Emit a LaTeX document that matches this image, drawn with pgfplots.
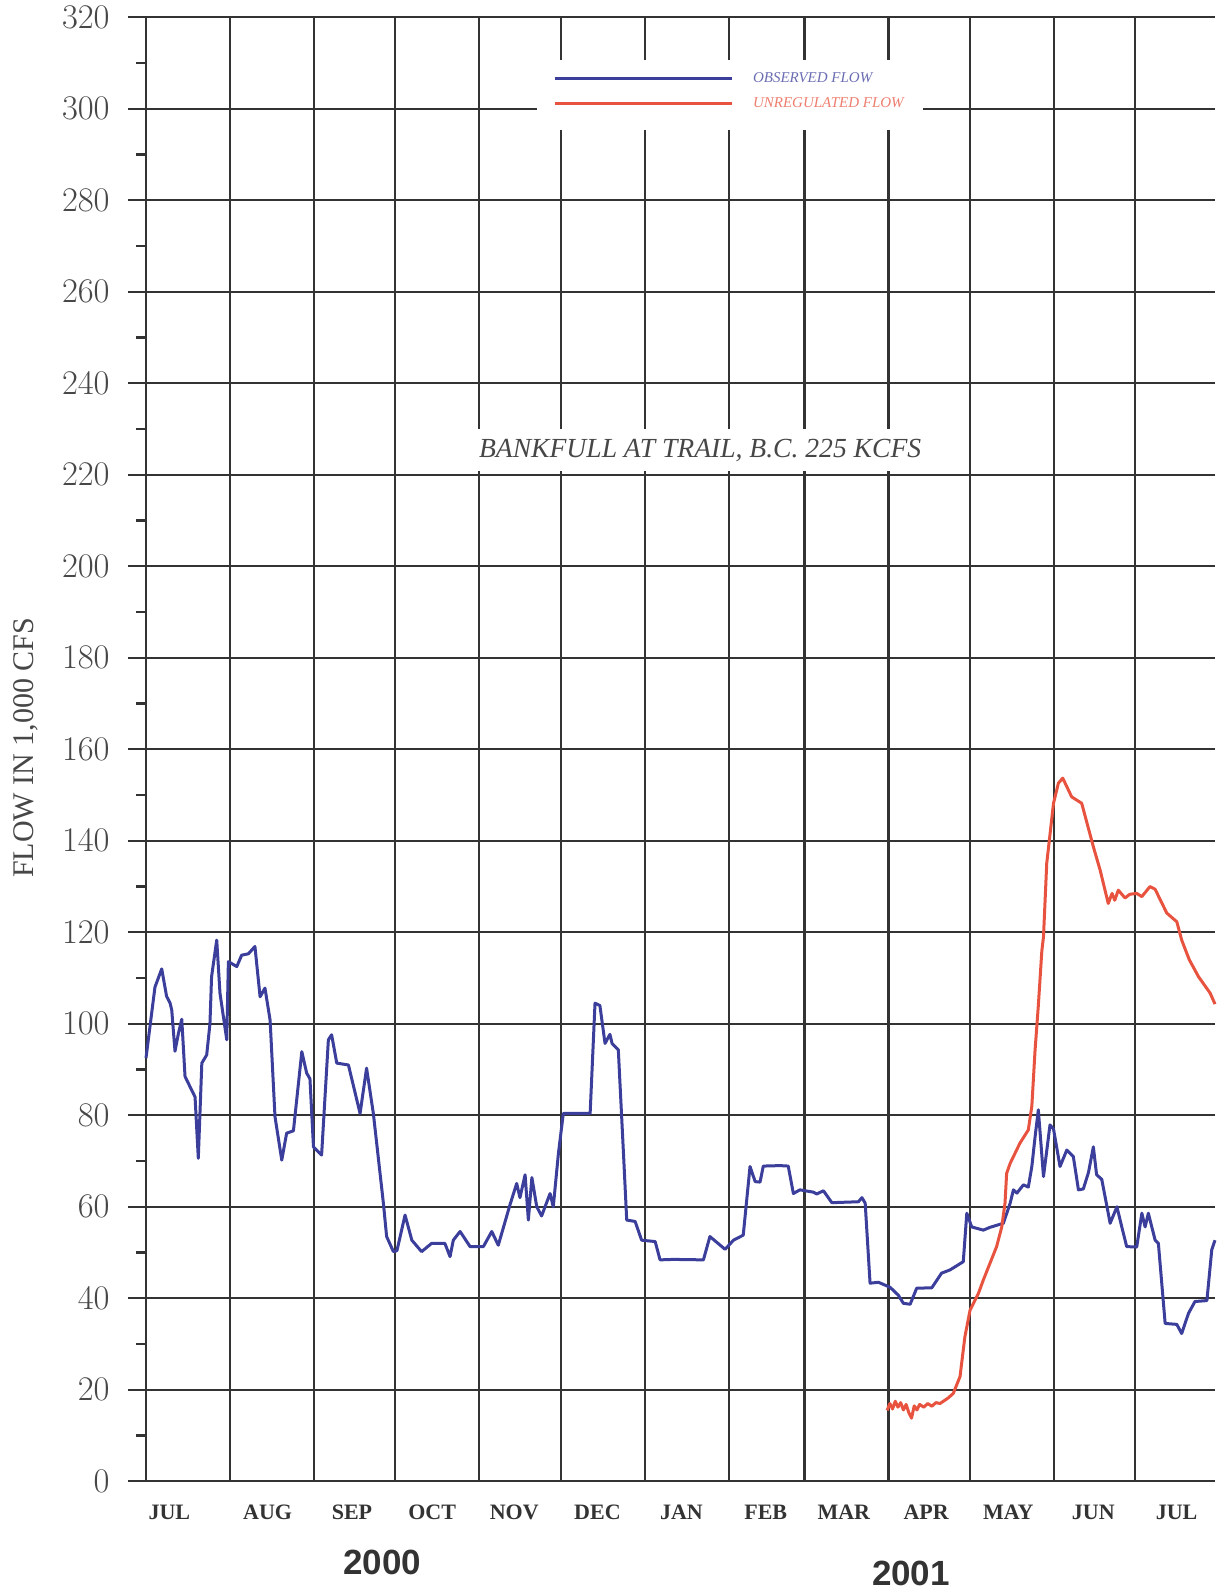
\documentclass[border=0pt]{standalone}
\usepackage{fontspec}
\setmainfont{Liberation Serif}
\newfontfamily\yearfont{Liberation Sans}
\usepackage{pgfplots}
\pgfplotsset{compat=1.18}

\definecolor{obsblue}{HTML}{3B3E9A}
\definecolor{unregred}{HTML}{E8533F}
\definecolor{gridgray}{HTML}{333333}
\definecolor{labelgray}{HTML}{474747}

% Observed flow (1,000 cfs), x = days after 1 July 2000
\pgfplotstableread{
day flow
0 92.5
3.3 108
5.8 112
7.6 106
8.9 104.5
9.5 103
10.7 94
12 98
13.2 101
14.4 88.5
16.2 86.3
18.1 84
19.3 70.6
20.6 91.4
22.4 93.2
23.6 100
24.2 110.3
26.1 118.3
27.3 106.7
29.8 96.5
30.4 113.6
33.5 112.5
35.3 115
37.8 115.3
40.2 116.9
42.1 105.9
43.9 107.8
45.8 100.8
47.6 79.7
50.1 70.2
51.9 76.1
54.4 76.6
57.5 93.9
59.3 89.2
60.5 88
61.8 73.1
64.8 71.3
67.3 96.5
68.5 97.6
70.4 91.4
74.7 91
79 80.4
81.4 90.3
83.9 80.4
87.6 60.8
88.8 53.5
91.3 50.2
92.6 50.4
95.6 58.2
98.1 52.7
101.7 50.2
105.4 52
110.3 52
112.2 49.1
113.4 52.7
115.9 54.6
119.6 51.3
124.5 51.3
127.6 54.6
130 51.6
134.3 60.4
136.8 65.1
138 62
139.9 67
141.1 57.1
142.4 66.4
144.2 60
146 58
149.1 62.9
150.3 60
152.2 71.7
154 80.4
163.9 80.4
165.7 104.5
167.5 104
169.4 95.7
171.2 97.7
172 95.7
174.3 94.3
176.2 71.7
177.4 57.1
180.5 56.8
182.9 52.7
187.9 52.4
189.7 48.4
194.6 48.5
205.7 48.4
208.1 53.5
213.7 50.7
216.8 52.7
220.4 53.8
222.9 68.8
224.8 65.5
226.6 65.4
227.8 68.9
234 69
237 68.9
238.9 62.9
241.3 63.7
246.3 63.2
247.5 62.8
250 63.5
253.1 60.9
262.9 61.1
264.2 62
265.4 60.8
267.2 43.3
270.3 43.5
274.6 42.4
277.6 40.7
279.5 38.9
282 38.7
284.4 42.2
290 42.3
293.6 45.5
296.7 46.2
301.6 48
302.9 58.6
304.7 55.6
309 54.9
311.4 55.5
316.4 56.4
318.9 60.8
320.1 63.7
321.4 63
323.8 64.8
325.6 64.3
326.9 68.8
328.1 75.3
329.3 81.2
331.2 66.6
333.6 77.9
334.9 77
337.3 68.8
339.8 72.4
342.2 71
344.1 63.7
345.9 63.9
347.8 67.5
349.6 73.1
350.8 67
352.7 66
355.8 56.4
358.3 60
360.1 55.6
361.9 51.3
365.6 51.2
367.5 58.6
368.7 55.6
369.9 58.6
372.4 52.7
373.6 52
376.1 34.5
380.4 34.3
382.2 32.3
384.7 36.7
387.1 39.3
391.5 39.5
393.3 50.6
394.5 52.7
}\observed

% Unregulated flow (1,000 cfs)
\pgfplotstableread{
day flow
273.5 15.5
274.5 17
275.5 15.8
276.5 17.5
277.5 16.2
278.5 17.2
279.5 15.6
280.5 16.8
281.5 15
282.5 13.8
283.5 16.5
284.5 15.6
285.5 16.8
287 16.2
288.5 17
290 16.4
291.5 17.2
293 17
294.5 17.6
296 18.2
297.9 19.2
300.4 22.9
302.2 31.6
304.1 37.4
307.2 41.1
309 44
313.9 51.3
315.8 55.6
317 60.8
317.6 67.3
318.9 69.5
322.5 73.9
325.6 76.8
326.9 82
328.1 94.3
329.3 104
330.6 116
331.2 119
332.4 135.1
334.9 148.2
336.7 152.6
338.3 153.7
341.6 149.6
345.3 148.2
349.6 138.7
352.1 133.6
355.1 126.3
356.5 128.5
357.5 127
358.8 129.2
361.3 127.5
363 128.3
365.6 128.5
367.5 127.8
370.5 130
372.4 129.4
376.7 124.2
380.4 122.3
382.2 118.3
385 114
388.4 110.3
392.7 106.7
394.5 104.3
}\unregulated

\begin{document}
\begin{tikzpicture}
\begin{axis}[
  scale only axis, width=534.5pt, height=732pt,
  xmin=0, xmax=394.5, ymin=0, ymax=320,
  clip=false,
  axis x line*=bottom, axis y line*=left,
  axis line style={draw=gridgray, line width=1.1pt},
  xtick={31,62,92,123,153,184,215,243,274,304,335,365},
  xticklabels={},
  extra x ticks={8.6,44.9,76,105.6,135.9,166.6,197.6,228.7,257.5,287.9,318.2,349.6,380.3},
  extra x tick labels={JUL,AUG,SEP,OCT,NOV,DEC,JAN,FEB,MAR,APR,MAY,JUN,JUL},
  extra x tick style={grid=none},
  xtick style={draw=none},
  ytick={0,20,...,320},
  minor ytick={10,30,...,310},
  ytick style={draw=gridgray, line width=1.1pt},
  minor tick style={draw=gridgray, line width=1.1pt},
  tick align=outside,
  major tick length=9pt, minor tick length=5pt,
  xmajorgrids, ymajorgrids,
  major grid style={draw=gridgray, line width=1.1pt},
  yticklabel style={font=\fontsize{16}{16}\selectfont, text=labelgray, inner sep=0pt, xshift=-9pt},
  xticklabel style={font=\bfseries\fontsize{11}{11}\selectfont, text=black!80, inner sep=0pt, anchor=north, yshift=-2.5pt},
  ylabel={FLOW IN 1,000 CFS},
  ylabel style={at={(rel axis cs:-0.1121,0.501)}, anchor=center, inner sep=0pt, font=\fontsize{15}{15}\selectfont, text=labelgray},
  legend style={at={(axis cs:150.2,303.8)}, anchor=west, draw=none, fill=none,
    inner sep=0pt, outer sep=0pt, row sep=2pt, column sep=8pt,
    font=\itshape\fontsize{7.5}{7.5}\selectfont},
  legend cell align=left,
  legend image code/.code={\draw[#1] (0pt,0pt) -- (88.5pt,0pt);},
]
% page frame (sets the picture size)
\path (axis cs:-53.88,-23.76) rectangle (axis cs:394.5,323.78);
% white panels behind the legend and the bankfull note
\fill[white] (axis cs:144.3,295.4) rectangle (axis cs:286.8,310.7);
\node[fill=white, inner xsep=5pt, inner ysep=5pt, text=labelgray,
  font=\itshape\fontsize{13.8}{13.8}\selectfont] at (axis cs:204.5,225.4)
  {BANKFULL AT TRAIL, B.C. 225 KCFS};

\addplot[obsblue, line width=1.5pt, line join=round] table[x=day, y=flow] {\observed};
\addlegendentry{\textcolor{obsblue!75}{OBSERVED FLOW}}
\addplot[unregred, line width=1.5pt, line join=round] table[x=day, y=flow] {\unregulated};
\addlegendentry{\textcolor{unregred!75}{UNREGULATED FLOW}}

\node[inner sep=0pt, font=\yearfont\bfseries\fontsize{17.5}{17.5}\selectfont, text=black!80] at (axis cs:87.1,-17.8) {2000};
\node[inner sep=0pt, font=\yearfont\bfseries\fontsize{17.5}{17.5}\selectfont, text=black!80] at (axis cs:282.3,-20.1) {2001};
\end{axis}
\end{tikzpicture}
\end{document}
